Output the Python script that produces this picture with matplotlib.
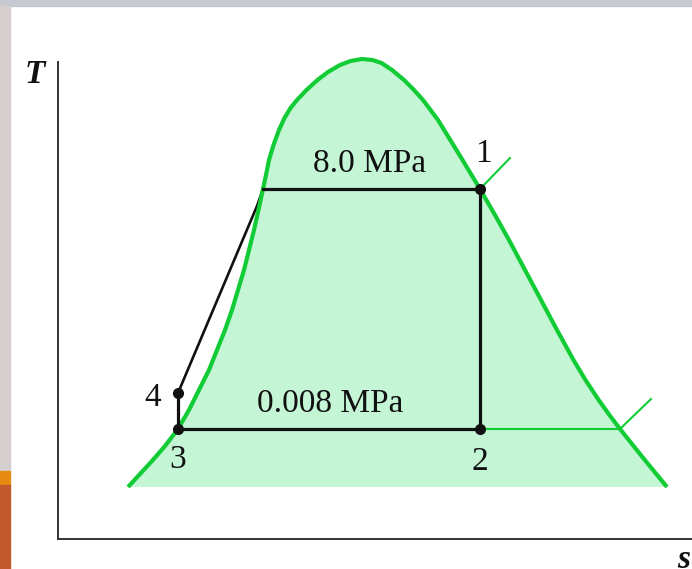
import matplotlib
matplotlib.use("Agg")
import matplotlib.pyplot as plt
from matplotlib.patches import Rectangle

# saturation dome, entropy / temperature in drawing units
dome_s = [70, 82, 94, 107, 120, 131, 141, 151, 159, 167, 174, 180, 186, 191, 196, 200.5,
          205, 208, 211, 215.5, 221, 226.5, 232.5, 239, 248.5, 259.5, 270, 282, 292.5, 304,
          314.5, 323.5, 334, 346, 356, 365, 380, 401.5, 422, 437, 451, 467, 483, 499,
          515.5, 527.5, 540.7, 551.4, 562, 586, 609]
dome_T = [52, 65, 78, 93, 110, 129, 149, 169, 189, 209, 229, 249, 269, 289, 309, 329,
          350, 364, 379, 394, 409, 421, 431, 439, 449, 459, 467, 474, 478, 480,
          479, 476, 469, 459, 449, 439, 419, 384, 350, 324, 299, 269, 239, 209,
          179, 159, 139, 124, 110, 80, 52]

# cycle states 1-4 and the saturated-liquid point at the high pressure
state_labels = ["1", "2", "3", "4"]
state_s = [422, 422, 120, 120]
state_T = [350, 110, 110, 146]
sat_liq_hi = (205, 350)
pump_bend = (199, 333)

# thin constant-pressure lines leaving the dome
p_low_s = [422, 562, 593]
p_low_T = [110, 110, 140]
p_high_s = [422, 452]
p_high_T = [350, 381]

pressure_labels = ["8.0 MPa", "0.008 MPa"]

green = "#12cc35"
fill = "#c4f5d5"
ink = "#111111"

fig = plt.figure(figsize=(6.92, 5.69), dpi=100)
fig.patch.set_facecolor("white")

# strips of the slide behind the figure
fig.patches.append(Rectangle((0, 1 - 6 / 569), 1, 6 / 569, transform=fig.transFigure,
                             color="#c6c9d0", zorder=0))
fig.patches.append(Rectangle((0, 98 / 569), 10 / 692, 465 / 569, transform=fig.transFigure,
                             color="#d5d0cd", zorder=0))
fig.patches.append(Rectangle((0, 84 / 569), 10 / 692, 14 / 569, transform=fig.transFigure,
                             color="#e68a14", zorder=0))
fig.patches.append(Rectangle((0, 0), 10 / 692, 84 / 569, transform=fig.transFigure,
                             color="#c05a2c", zorder=0))

ax = fig.add_axes([58 / 692, 30 / 569, 634 / 692, 499 / 569])
ax.set_xlim(0, 634)
ax.set_ylim(0, 499)
ax.patch.set_alpha(0)
for side in ["top", "right"]:
    ax.spines[side].set_visible(False)
for side in ["left", "bottom"]:
    ax.spines[side].set_color("#333333")
    ax.spines[side].set_linewidth(1.4)
ax.spines["left"].set_bounds(0, 477)
ax.set_xticks([])
ax.set_yticks([])

# dome area and outline
ax.fill(dome_s, dome_T, color=fill, lw=0, zorder=1)
ax.plot(dome_s, dome_T, color=green, lw=3.0, solid_capstyle="butt",
        solid_joinstyle="round", zorder=4)

ax.plot(p_low_s, p_low_T, color=green, lw=1.5, zorder=3)
ax.plot(p_high_s, p_high_T, color=green, lw=1.5, zorder=3)

# cycle: 4 -> sat. liquid -> 1 -> 2 -> 3 -> 4
ax.plot([state_s[3], pump_bend[0], sat_liq_hi[0]], [state_T[3], pump_bend[1], sat_liq_hi[1]],
        color=ink, lw=1.9, zorder=3)
ax.plot([sat_liq_hi[0], state_s[0], state_s[1], state_s[2], state_s[3]],
        [sat_liq_hi[1], state_T[0], state_T[1], state_T[2], state_T[3]],
        color=ink, lw=2.3, zorder=5)
ax.plot(state_s, state_T, "o", color=ink, ms=7, zorder=6)

serif = "Liberation Serif"
ax.text(312, 375, pressure_labels[0], fontsize=24, family=serif, color=ink,
        ha="center", va="center", zorder=7)
ax.text(272, 135, pressure_labels[1], fontsize=24, family=serif, color=ink,
        ha="center", va="center", zorder=7)

label_pos = [(425, 385), (422, 77), (120, 79), (95, 141)]
for lab, (x, y) in zip(state_labels, label_pos):
    ax.text(x, y, lab, fontsize=24, family=serif, color=ink, ha="center", va="center", zorder=7)

ax.text(-23, 465, "T", fontsize=24, family=serif, style="italic", weight="bold", color=ink,
        ha="center", va="center", clip_on=False)
ax.text(626, -21, "s", fontsize=24, family=serif, style="italic", weight="bold", color=ink,
        ha="center", va="center", clip_on=False)

fig.savefig("out.png", dpi=100)
